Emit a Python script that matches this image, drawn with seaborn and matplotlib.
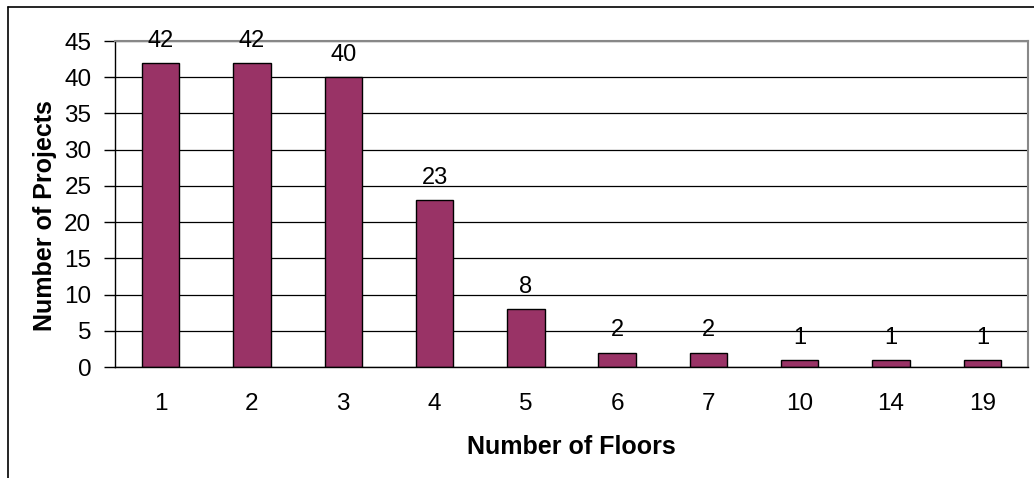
import matplotlib
matplotlib.use("Agg")
import matplotlib.pyplot as plt
import seaborn as sns
import numpy as np
import pandas as pd
from matplotlib.lines import Line2D

# data
floors = ["1", "2", "3", "4", "5", "6", "7", "10", "14", "19"]
projects = [42, 42, 40, 23, 8, 2, 2, 1, 1, 1]

df = pd.DataFrame({"floors": floors, "projects": projects})

sns.set_style("white")
plt.rcParams["font.family"] = ["Liberation Sans", "DejaVu Sans"]
plt.rcParams["text.color"] = "black"
plt.rcParams["axes.labelcolor"] = "black"
plt.rcParams["xtick.color"] = "black"
plt.rcParams["ytick.color"] = "black"

fig = plt.figure(figsize=(10.34, 4.78), dpi=100)
ax = fig.add_axes([0.1112, 0.2322, 0.883, 0.682])

sns.barplot(data=df, x="floors", y="projects", order=floors, color="#993366",
            edgecolor="black", linewidth=1.0, width=0.41, saturation=1, ax=ax)

# value labels above the bars
for i, v in enumerate(projects):
    ax.annotate(str(v), (i, v), xytext=(0, 8), textcoords="offset points",
                ha="center", va="bottom", fontsize=17)

ax.set_ylim(0, 45)
ax.set_xlim(-0.5, len(floors) - 0.5)
ax.set_yticks(np.arange(0, 46, 5))
ax.yaxis.grid(True, color="black", linewidth=0.9)
ax.set_axisbelow(True)

# ticks between categories, like the original
ax.set_xticks(np.arange(-0.5, len(floors), 1), minor=True)
ax.tick_params(axis="x", which="major", length=0, pad=19, labelsize=17.5)
ax.tick_params(axis="x", which="minor", length=7, width=1, direction="out")
ax.tick_params(axis="y", length=8, width=1, direction="out", labelsize=17.5, left=True, pad=9)

for side in ["left", "bottom"]:
    ax.spines[side].set_color("black")
    ax.spines[side].set_linewidth(1.0)
for side in ["top", "right"]:
    ax.spines[side].set_color("#888888")
    ax.spines[side].set_linewidth(1.5)

ax.set_xlabel("Number of Floors", fontsize=18, fontweight="bold", labelpad=14)
ax.set_ylabel("Number of Projects", fontsize=18, fontweight="bold")
ax.yaxis.set_label_coords(-0.0635, 0.466)

# outer chart border (only left and top are visible in the original)
fig.add_artist(Line2D([8 / 1034, 8 / 1034], [0, 1 - 7 / 478], color="black", linewidth=1.2))
fig.add_artist(Line2D([8 / 1034, 1], [1 - 7 / 478, 1 - 7 / 478], color="black", linewidth=1.2))

fig.savefig("out.png", dpi=100, facecolor="white")
